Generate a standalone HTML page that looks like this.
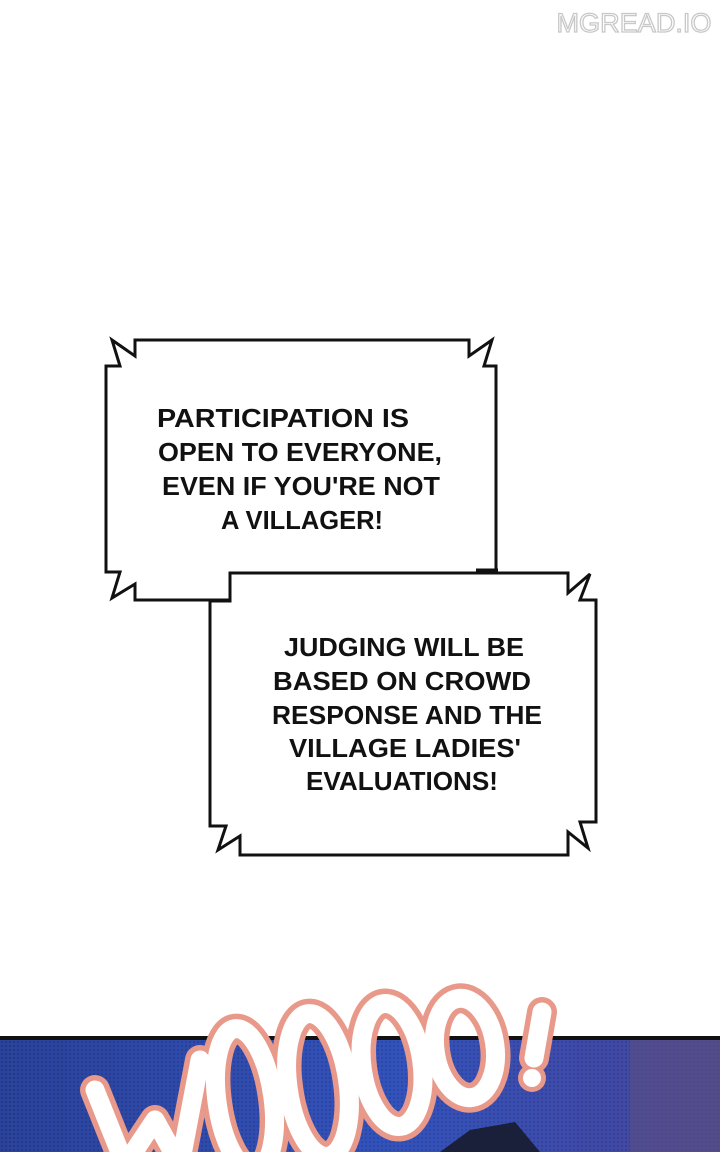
<!DOCTYPE html>
<html><head><style>
html,body{margin:0;padding:0;width:720px;height:1152px;overflow:hidden;background:#fff;}
.t{font-family:"Liberation Sans",sans-serif;font-size:26px;font-weight:bold;fill:#111;text-anchor:middle;}
</style></head><body>
<svg width="720" height="1152" viewBox="0 0 720 1152" xmlns="http://www.w3.org/2000/svg">
<defs>
<pattern id="dots" width="4" height="4" patternUnits="userSpaceOnUse">
<rect width="4" height="4" fill="#2d4aa8"/><circle cx="2" cy="2" r="1.2" fill="#1a2a6a"/>
</pattern>
<linearGradient id="bg" x1="0" y1="0" x2="1" y2="0">
<stop offset="0" stop-color="#2a3f95"/><stop offset="0.55" stop-color="#3658c8"/><stop offset="0.85" stop-color="#4a4aa8"/><stop offset="1" stop-color="#5a4a88"/>
</linearGradient>
</defs>
<text x="634" y="32" font-family="Liberation Sans, sans-serif" font-size="27" fill="#fff" stroke="#c8c8c8" stroke-width="1.3" text-anchor="middle" textLength="155" lengthAdjust="spacingAndGlyphs">MGREAD.IO</text>

<polygon points="135,340 469,340 469,356 492,340 484,366 496,366 496,570 484,570 492,596 469,582 469,600 135,600 135,584 112,598 120,572 106,572 106,366 120,366 112,340 135,356" fill="#fff" stroke="#111" stroke-width="3"/>
<polygon points="210,601 230,601 230,573 478,573 568,573 568,593 590,574 580,600 596,600 596,822 580,822 588,848 568,832 568,855 240,855 240,836 218,850 226,826 210,826" fill="#fff" stroke="#111" stroke-width="3"/>
<line x1="476" y1="570" x2="498" y2="570" stroke="#111" stroke-width="3"/>

<text class="t" x="283" y="427" textLength="252" lengthAdjust="spacingAndGlyphs">PARTICIPATION IS</text>
<text class="t" x="300" y="461" textLength="284" lengthAdjust="spacingAndGlyphs">OPEN TO EVERYONE,</text>
<text class="t" x="301" y="495" textLength="278" lengthAdjust="spacingAndGlyphs">EVEN IF YOU'RE NOT</text>
<text class="t" x="302" y="529" textLength="162" lengthAdjust="spacingAndGlyphs">A VILLAGER!</text>

<text class="t" x="404" y="656" textLength="240" lengthAdjust="spacingAndGlyphs">JUDGING WILL BE</text>
<text class="t" x="402" y="690" textLength="258" lengthAdjust="spacingAndGlyphs">BASED ON CROWD</text>
<text class="t" x="407" y="724" textLength="270" lengthAdjust="spacingAndGlyphs">RESPONSE AND THE</text>
<text class="t" x="405" y="757" textLength="232" lengthAdjust="spacingAndGlyphs">VILLAGE LADIES'</text>
<text class="t" x="402" y="790" textLength="192" lengthAdjust="spacingAndGlyphs">EVALUATIONS!</text>

<rect x="0" y="1038" width="720" height="114" fill="url(#bg)"/>
<rect x="0" y="1038" width="720" height="114" fill="url(#dots)" opacity="0.35"/>
<rect x="630" y="1038" width="90" height="114" fill="#5a4e86" opacity="0.6"/>
<line x1="0" y1="1038" x2="720" y2="1038" stroke="#111" stroke-width="4"/>
<path d="M440 1152 L470 1130 L515 1122 L540 1152 Z" fill="#1a1f3a"/>

<g fill="none" stroke-linecap="round" stroke-linejoin="round">
<g stroke="#e8998a" stroke-width="30">
<polyline points="95,1090 125,1165 155,1120 180,1165 200,1060"/>
<ellipse cx="245" cy="1100" rx="28" ry="72" transform="rotate(-8 245 1100)"/>
<ellipse cx="318" cy="1085" rx="30" ry="72" transform="rotate(-8 318 1085)"/>
<ellipse cx="392" cy="1065" rx="30" ry="62" transform="rotate(-8 392 1065)"/>
<ellipse cx="465" cy="1048" rx="30" ry="50" transform="rotate(-8 465 1048)"/>
<line x1="542" y1="1012" x2="534" y2="1058"/>
</g>
<circle cx="532" cy="1078" r="14" fill="#e8998a"/>
<g stroke="#fff" stroke-width="19">
<polyline points="95,1090 125,1165 155,1120 180,1165 200,1060"/>
<ellipse cx="245" cy="1100" rx="28" ry="72" transform="rotate(-8 245 1100)"/>
<ellipse cx="318" cy="1085" rx="30" ry="72" transform="rotate(-8 318 1085)"/>
<ellipse cx="392" cy="1065" rx="30" ry="62" transform="rotate(-8 392 1065)"/>
<ellipse cx="465" cy="1048" rx="30" ry="50" transform="rotate(-8 465 1048)"/>
<line x1="542" y1="1012" x2="534" y2="1058"/>
</g>
<circle cx="532" cy="1078" r="9" fill="#fff"/>
</g>
</svg>
</body></html>
